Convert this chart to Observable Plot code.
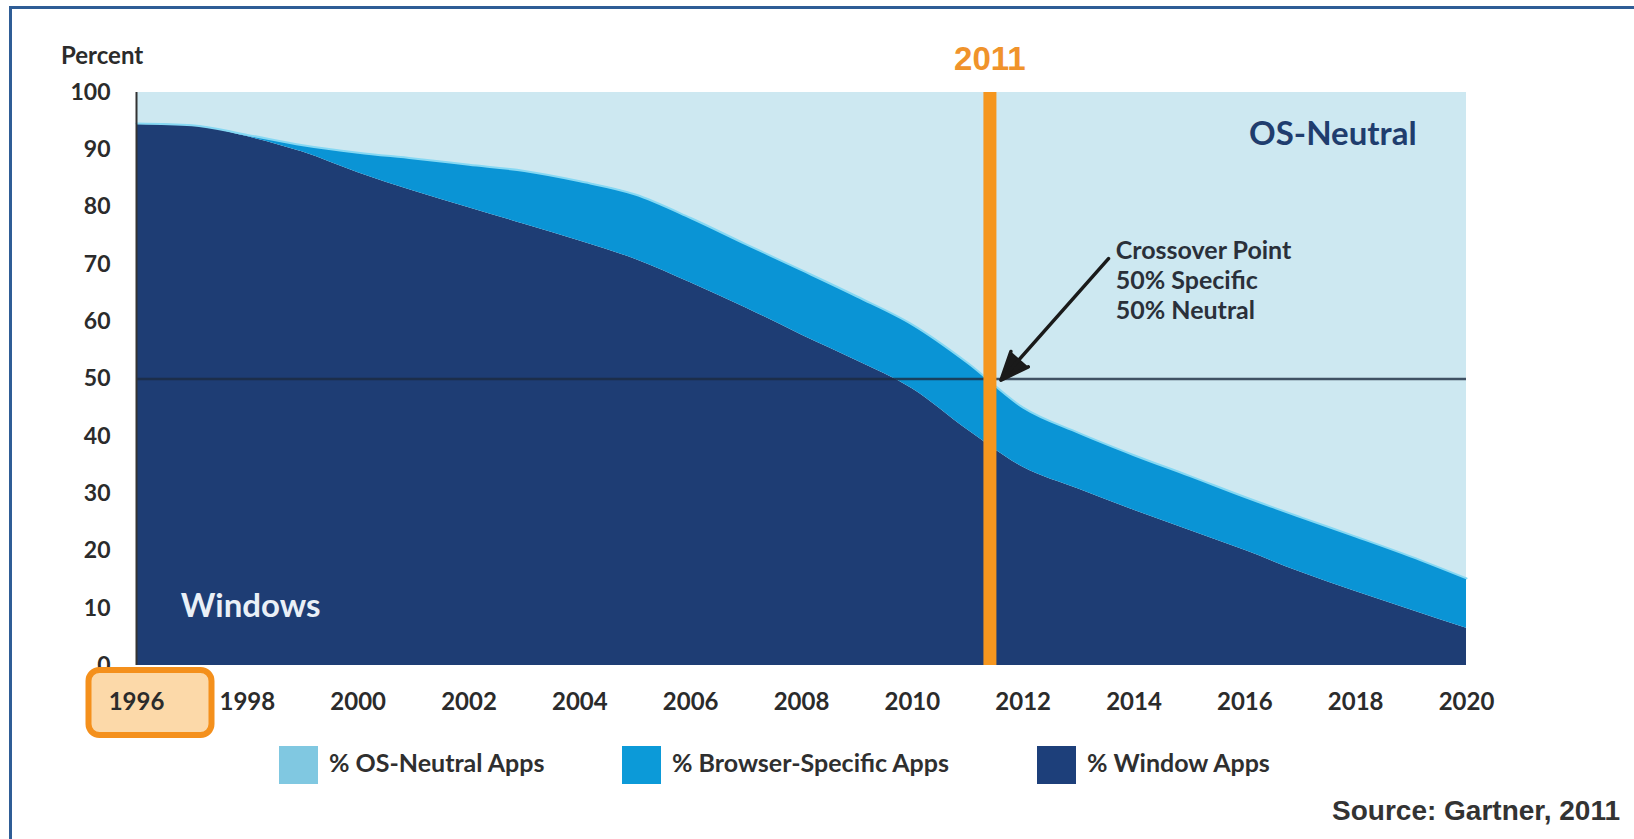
<!DOCTYPE html>
<html>
<head>
<meta charset="utf-8">
<script src="https://cdn.jsdelivr.net/npm/d3@7"></script>
<script src="https://cdn.jsdelivr.net/npm/@observablehq/plot@0.6"></script>
<style>
  html, body { margin: 0; padding: 0; background: #ffffff; }
  #fig { position: relative; width: 1634px; height: 839px; background: #ffffff; overflow: hidden; font-family: Lato, "Open Sans", sans-serif; }
  #frame { position: absolute; left: 9px; top: 6px; right: -20px; bottom: -20px; border-top: 3px solid #2f5d96; border-left: 3px solid #2f5d96; }
  #chart { position: absolute; left: 0; top: 0; }
  #ylabel { position: absolute; left: 61px; top: 40px; font-size: 24px; font-weight: 700; color: #2b2b2b; }
  .leg { position: absolute; top: 746px; display: flex; align-items: center; }
  .sw { width: 39px; height: 38px; margin-right: 11px; }
  .lt { font-size: 25px; font-weight: 700; color: #2f2f2f; white-space: nowrap; position: relative; top: -3px; }
  #source { position: absolute; right: 14px; top: 795px; font-family: "Liberation Sans", Arial, sans-serif; font-size: 28px; font-weight: 700; color: #333; }
</style>
</head>
<body>
<div id="fig">
  <div id="frame"></div>
  <div id="chart"></div>
  <div id="ylabel">Percent</div>
  <div class="leg" style="left:279px"><div class="sw" style="background:#80c8e1"></div><div class="lt">% OS-Neutral Apps</div></div>
  <div class="leg" style="left:622px"><div class="sw" style="background:#0c9ad8"></div><div class="lt">% Browser-Specific Apps</div></div>
  <div class="leg" style="left:1037px"><div class="sw" style="background:#1d3f7a"></div><div class="lt">% Window Apps</div></div>
  <div id="source">Source: Gartner, 2011</div>
</div>
<script>
// ---- data ----
const years = [1996,1997,1998,1999,2000,2001,2002,2003,2004,2005,2006,2007,2008,2009,2010,2011,2012,2013,2014,2015,2016,2017,2018,2019,2020];
const windowsApps = [94.6,94.3,92.3,89.6,86.0,82.8,79.9,77.0,74.1,70.9,66.8,62.4,57.7,53.2,48.3,41.1,34.6,30.8,27.1,23.6,20.1,16.3,12.9,9.7,6.5];
const browserApps = [0,0,0.3,1.2,3.5,5.7,7.5,9.3,10.4,11.3,11.3,11.1,11.3,11.2,11.2,11.7,10.4,9.8,9.6,9.5,9.3,9.6,9.6,9.3,8.7];
const neutralApps = [5.4,5.7,7.4,9.2,10.5,11.5,12.6,13.7,15.5,17.8,21.9,26.5,31.0,35.6,40.5,47.2,55.0,59.4,63.3,66.9,70.6,74.1,77.5,81.0,84.8];

const seriesNames = ["% Window Apps", "% Browser-Specific Apps", "% OS-Neutral Apps"]; // bottom to top
const seriesColors = ["#1e3d74", "#0a94d5", "#cde8f1"];

const xTicks = [1996,1998,2000,2002,2004,2006,2008,2010,2012,2014,2016,2018,2020];
const yTicks = [0,10,20,30,40,50,60,70,80,90,100];

const crossoverYear = 2011.4;   // where the orange marker sits
const crossoverLabel = "2011";
const crossoverValue = 50;
const noteText = "Crossover Point\n50% Specific\n50% Neutral";
const notePos = {year: 2013.67, value: 67.4};
const arrowFrom = {year: 2013.54, value: 71.0};
const arrowTo = {year: 2011.6, value: 49.8};
const neutralLabel = {year: 2019.1, value: 92.7, text: "OS-Neutral"};
const windowsLabel = {year: 1996.8, value: 10.3, text: "Windows"};
const highlightYear = 1996;

// ---- table for the library ----
const rows = years.flatMap((yr, i) => [
  {year: yr, series: seriesNames[0], value: windowsApps[i]},
  {year: yr, series: seriesNames[1], value: browserApps[i]},
  {year: yr, series: seriesNames[2], value: neutralApps[i]}
]);
const upperEdge = years.map((yr, i) => ({year: yr, value: windowsApps[i] + browserApps[i]}));

const chart = Plot.plot({
  width: 1634,
  height: 740,
  marginLeft: 136,
  marginRight: 168,
  marginTop: 92,
  marginBottom: 75,
  x: {domain: [1996, 2020]},
  y: {domain: [0, 100]},
  color: {domain: seriesNames, range: seriesColors},
  style: {fontFamily: "Lato, 'Open Sans', sans-serif", fontWeight: 700, fontSize: "22px", color: "#2b2b2b", background: "transparent", overflow: "visible"},
  marks: [
    Plot.areaY(rows, {x: "year", y: "value", z: "series", fill: "series", order: seriesNames, curve: "monotone-x"}),
    Plot.lineY(upperEdge, {x: "year", y: "value", stroke: "#86d8f3", strokeWidth: 2, curve: "monotone-x"}),
    Plot.ruleY([crossoverValue], {stroke: "#1b2a40", strokeOpacity: 0.8, strokeWidth: 2.5}),
    Plot.ruleX([1996], {stroke: "#333", strokeWidth: 2}),
    Plot.axisY({ticks: yTicks, tickSize: 0, tickPadding: 26, label: null, fontSize: 23}),
    Plot.axisX({ticks: xTicks, tickSize: 0, tickPadding: 27, label: null, fontSize: 24, tickFormat: d => String(d)}),
    Plot.ruleX([crossoverYear], {stroke: "#f5961e", strokeWidth: 13}),
    Plot.text([crossoverLabel], {x: () => crossoverYear, frameAnchor: "top", lineAnchor: "middle", dy: -33, text: d => d, fill: "#f0932b", fontSize: 33, fontFamily: "'Liberation Sans', Arial, sans-serif", fontWeight: 700}),
    Plot.arrow([0], {x1: () => arrowFrom.year, y1: () => arrowFrom.value, x2: () => arrowTo.year, y2: () => arrowTo.value, stroke: "#1a1a1a", strokeWidth: 3.5, headLength: 13, headAngle: 45, bend: 0}),
    Plot.text([noteText], {x: () => notePos.year, y: () => notePos.value, text: d => d, textAnchor: "start", lineHeight: 1.2, fontSize: 25, fill: "#2a303a"}),
    Plot.text([neutralLabel], {x: "year", y: "value", text: "text", textAnchor: "end", fontSize: 33, fill: "#1f3d6e"}),
    Plot.text([windowsLabel], {x: "year", y: "value", text: "text", textAnchor: "start", fontSize: 33, fill: "#eaf0f7"})
  ]
});

// solid arrow head: the head sub-path of the arrow is closed by filling it
const arrowPath = chart.querySelector('g[aria-label="arrow"] path');
if (arrowPath) { arrowPath.setAttribute("fill", "#1a1a1a"); arrowPath.setAttribute("stroke-linejoin", "miter"); }

// highlight box round the first year's tick label
const xs = chart.scale("x");
const px = xs.apply(highlightYear);
const ns = "http://www.w3.org/2000/svg";
const rect = document.createElementNS(ns, "rect");
rect.setAttribute("x", px - 47.5);
rect.setAttribute("y", 670);
rect.setAttribute("width", 123);
rect.setAttribute("height", 65);
rect.setAttribute("rx", 11);
rect.setAttribute("fill", "#fcd9a9");
rect.setAttribute("stroke", "#f4901c");
rect.setAttribute("stroke-width", 6);
const xLabels = chart.querySelector('g[aria-label="x-axis tick label"]');
if (xLabels) xLabels.parentNode.insertBefore(rect, xLabels); else chart.appendChild(rect);

document.getElementById("chart").appendChild(chart);
</script>
</body>
</html>
